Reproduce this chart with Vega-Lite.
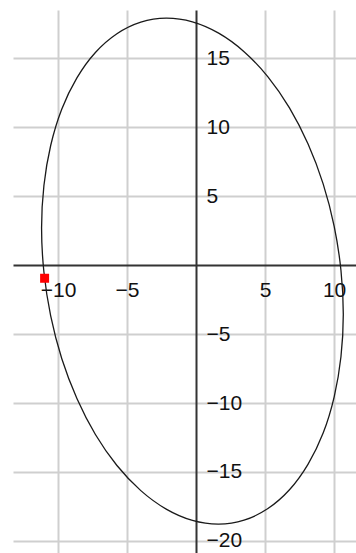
{
  "$schema": "https://vega.github.io/schema/vega-lite/v6.json",
  "width": 343,
  "height": 543,
  "autosize": {"type": "none"},
  "padding": {"left": 13, "top": 10, "right": 0, "bottom": 0},
  "background": "white",
  "config": {
    "view": {"stroke": null},
    "axis": {
      "labelFont": "Liberation Sans",
      "labelFontSize": 21,
      "labelColor": "#111111",
      "labelOverlap": false,
      "labelBound": false,
      "labelFlush": false,
      "ticks": false,
      "title": null
    }
  },
  "datasets": {
    "ellipse": [
      {"i": 0, "x": 10.67, "y": -3.57},
      {"i": 1, "x": 10.50, "y": -0.38},
      {"i": 2, "x": 10.01, "y": 2.80},
      {"i": 3, "x": 9.21, "y": 5.88},
      {"i": 4, "x": 8.11, "y": 8.78},
      {"i": 5, "x": 6.77, "y": 11.39},
      {"i": 6, "x": 5.21, "y": 13.64},
      {"i": 7, "x": 3.48, "y": 15.46},
      {"i": 8, "x": 1.64, "y": 16.80},
      {"i": 9, "x": -0.26, "y": 17.62},
      {"i": 10, "x": -2.16, "y": 17.89},
      {"i": 11, "x": -4.00, "y": 17.60},
      {"i": 12, "x": -5.73, "y": 16.76},
      {"i": 13, "x": -7.29, "y": 15.40},
      {"i": 14, "x": -8.63, "y": 13.56},
      {"i": 15, "x": -9.73, "y": 11.29},
      {"i": 16, "x": -10.53, "y": 8.66},
      {"i": 17, "x": -11.02, "y": 5.76},
      {"i": 18, "x": -11.19, "y": 2.68},
      {"i": 19, "x": -11.02, "y": -0.51},
      {"i": 20, "x": -10.53, "y": -3.69},
      {"i": 21, "x": -9.73, "y": -6.77},
      {"i": 22, "x": -8.63, "y": -9.67},
      {"i": 23, "x": -7.29, "y": -12.28},
      {"i": 24, "x": -5.73, "y": -14.53},
      {"i": 25, "x": -4.00, "y": -16.35},
      {"i": 26, "x": -2.16, "y": -17.69},
      {"i": 27, "x": -0.26, "y": -18.51},
      {"i": 28, "x": 1.64, "y": -18.78},
      {"i": 29, "x": 3.48, "y": -18.49},
      {"i": 30, "x": 5.21, "y": -17.65},
      {"i": 31, "x": 6.77, "y": -16.29},
      {"i": 32, "x": 8.11, "y": -14.45},
      {"i": 33, "x": 9.21, "y": -12.18},
      {"i": 34, "x": 10.01, "y": -9.55},
      {"i": 35, "x": 10.50, "y": -6.65}
    ],
    "marker": [
      {"x": -10.97, "y": -0.96}
    ]
  },
  "encoding": {
    "x": {
      "field": "x",
      "type": "quantitative",
      "scale": {"domain": [-13.26, 11.59], "nice": false, "zero": false}
    },
    "y": {
      "field": "y",
      "type": "quantitative",
      "scale": {"domain": [-20.87, 18.48], "nice": false, "zero": false}
    }
  },
  "layer": [
    {
      "data": {"name": "ellipse"},
      "mark": {
        "type": "line",
        "interpolate": "cardinal-closed",
        "color": "#1a1a1a",
        "strokeWidth": 1.3
      },
      "encoding": {
        "order": {"field": "i", "type": "quantitative"},
        "x": {
          "field": "x",
          "type": "quantitative",
          "axis": {
            "orient": "top",
            "grid": true,
            "gridColor": "#cfcfcf",
            "gridWidth": 2,
            "gridOpacity": 1,
            "domain": false,
            "labels": false,
            "values": [-10, -5, 5, 10]
          }
        },
        "y": {
          "field": "y",
          "type": "quantitative",
          "axis": {
            "orient": "left",
            "grid": true,
            "gridColor": "#cfcfcf",
            "gridWidth": 2,
            "gridOpacity": 1,
            "domain": false,
            "labels": false,
            "values": [-20, -15, -10, -5, 5, 10, 15]
          }
        }
      }
    },
    {
      "data": {"name": "marker"},
      "mark": {
        "type": "square",
        "size": 81,
        "color": "#ff0000",
        "filled": true,
        "opacity": 1
      },
      "encoding": {
        "x": {
          "field": "x",
          "type": "quantitative",
          "axis": {
            "orient": "bottom",
            "offset": -288,
            "grid": false,
            "domain": true,
            "domainColor": "#333333",
            "domainWidth": 2,
            "labelPadding": 14,
            "labelAlign": "center",
            "labelBaseline": "top",
            "values": [-10, -5, 5, 10]
          }
        },
        "y": {
          "field": "y",
          "type": "quantitative",
          "axis": {
            "orient": "right",
            "offset": -160,
            "grid": false,
            "domain": true,
            "domainColor": "#333333",
            "domainWidth": 2,
            "labelPadding": 10,
            "labelAlign": "left",
            "labelBaseline": "middle",
            "values": [-20, -15, -10, -5, 5, 10, 15]
          }
        }
      }
    }
  ]
}
